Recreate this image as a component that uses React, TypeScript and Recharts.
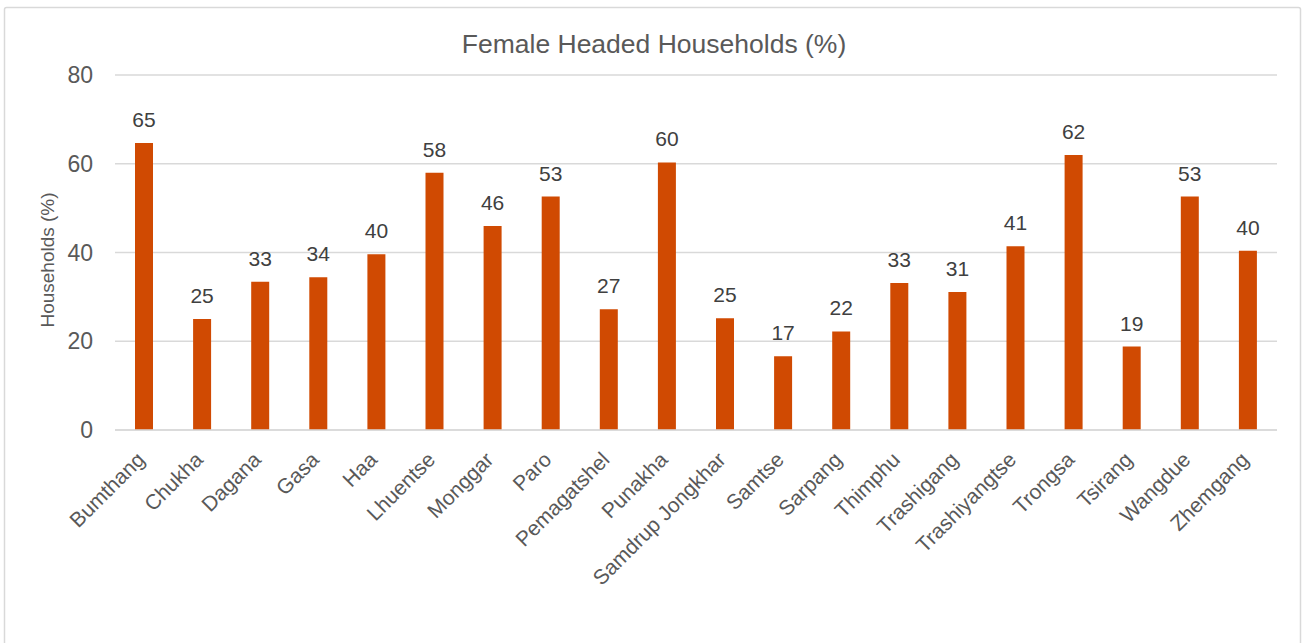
import { Bar, BarChart, CartesianGrid, LabelList, XAxis, YAxis } from "recharts";

const districts = [
  "Bumthang",
  "Chukha",
  "Dagana",
  "Gasa",
  "Haa",
  "Lhuentse",
  "Monggar",
  "Paro",
  "Pemagatshel",
  "Punakha",
  "Samdrup Jongkhar",
  "Samtse",
  "Sarpang",
  "Thimphu",
  "Trashigang",
  "Trashiyangtse",
  "Trongsa",
  "Tsirang",
  "Wangdue",
  "Zhemgang",
];

const femaleHeaded = [
  64.7, 25.0, 33.4, 34.4, 39.6, 58.0, 46.0, 52.6, 27.2, 60.3, 25.2, 16.6, 22.2, 33.1, 31.1, 41.4, 62.0, 18.8, 52.6,
  40.4,
];

const yTicks = [0, 20, 40, 60, 80];

const W = 1306;
const H = 643;
const FONT = "'Liberation Sans', Arial, sans-serif";
const BAR = "#D04A02";
const GRID = "#D9D9D9";

const data = districts.map((name, i) => ({ name, value: femaleHeaded[i] }));

function DistrictTick(props: { x?: number; y?: number; payload?: { value: string } }) {
  const { x = 0, y = 0, payload } = props;
  return (
    <g transform={`translate(${x + 2},${y + 29})`}>
      <text x={0} y={0} textAnchor="end" transform="rotate(-45)" fontSize={21} fill="#595959" fontFamily={FONT}>
        {payload?.value}
      </text>
    </g>
  );
}

export default function App() {
  return (
    <div style={{ position: "absolute", left: 0, top: 0, width: W, height: H, background: "#fff" }}>
      <BarChart width={W} height={H} data={data} margin={{ top: 75, right: 29, bottom: 53, left: 55 }}>
        <CartesianGrid vertical={false} stroke={GRID} strokeWidth={1.5} />
        <XAxis
          dataKey="name"
          interval={0}
          height={160}
          tickLine={false}
          tickSize={0}
          axisLine={{ stroke: GRID, strokeWidth: 1.5 }}
          tick={<DistrictTick />}
        />
        <YAxis
          domain={[0, 80]}
          ticks={yTicks}
          width={60}
          axisLine={false}
          tickLine={false}
          tickSize={0}
          tickMargin={22}
          tick={{ fill: "#595959", fontSize: 23, fontFamily: FONT }}
        />
        <Bar dataKey="value" fill={BAR} barSize={18} isAnimationActive={false}>
          <LabelList
            dataKey="value"
            position="top"
            offset={16}
            formatter={(v: number) => Math.round(v)}
            style={{ fill: "#404040", fontSize: 21, fontFamily: FONT }}
          />
        </Bar>
      </BarChart>
      <svg width={W} height={H} style={{ position: "absolute", left: 0, top: 0, pointerEvents: "none" }}>
        <rect x={4.5} y={7.5} width={1296} height={700} fill="none" stroke={GRID} strokeWidth={1.5} rx={2} />
        <text x={654} y={53} textAnchor="middle" fontSize={26.5} fill="#595959" fontFamily={FONT}>
          Female Headed Households (%)
        </text>
        <text
          x={53.5}
          y={260}
          textAnchor="middle"
          transform="rotate(-90 53.5 260)"
          fontSize={19}
          fill="#595959"
          fontFamily={FONT}
        >
          Households (%)
        </text>
      </svg>
    </div>
  );
}
